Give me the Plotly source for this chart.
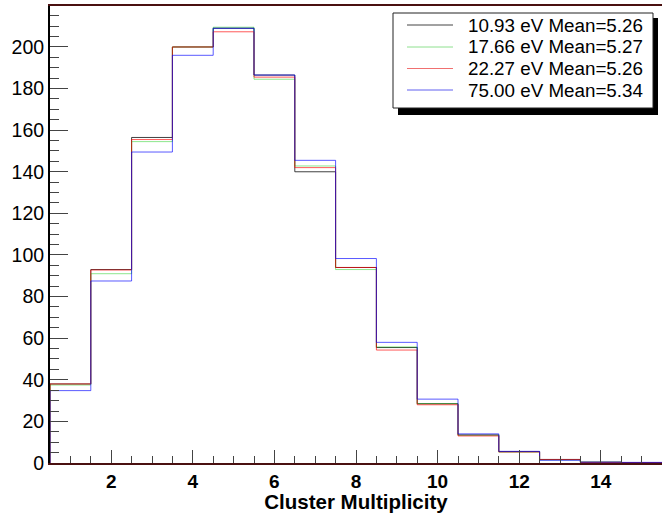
import plotly.graph_objects as go

# ---- data ----
bin_centers = list(range(1, 16))
labels = ["10.93 eV Mean=5.26", "17.66 eV Mean=5.27", "22.27 eV Mean=5.26", "75.00 eV Mean=5.34"]
h_1093 = [38, 93, 156.5, 200, 209, 186.5, 140, 94, 55.5, 28.5, 13.5, 5.5, 1.7, 0.4, 0.2]
h_1766 = [37.5, 91, 154.5, 200, 209.5, 184.5, 142.8, 93, 55.8, 28.5, 13.3, 5.2, 1.5, 0.4, 0.2]
h_2227 = [38, 92.8, 155.5, 200, 207.3, 185.5, 142, 94, 54.3, 28, 13, 5.3, 1.7, 0.3, 0.2]
h_7500 = [34.8, 87.5, 149.5, 196, 209, 186.5, 145.5, 98.3, 58, 30.7, 14, 5.6, 1.3, 0.4, 0.3]
y_ticks = list(range(0, 201, 20))
x_ticks = list(range(2, 15, 2))

series = [h_1093, h_1766, h_2227, h_7500]
colors = ["rgba(0,0,0,0.75)", "rgba(0,200,0,0.45)", "rgba(255,0,0,0.65)", "rgba(0,0,255,0.65)"]

W, H = 662, 513
ML, MR, MT, MB = 50, 0, 6, 50
PW, PH = W - ML - MR, H - MT - MB
FONT = "Liberation Sans"

fig = go.Figure()
for vals, col, lab in zip(series, colors, labels):
    edges = [c - 0.5 for c in bin_centers] + [bin_centers[-1] + 0.5]
    xs = [edges[0]] + edges
    ys = [0] + vals + [vals[-1]]
    fig.add_trace(go.Scatter(x=xs, y=ys, mode="lines", line=dict(color=col, width=1, shape="hv"),
                             name=lab, showlegend=False, hoverinfo="skip"))

def px_x(px):
    return (px - ML) / PW

def px_y(py):
    return (H - MB - py) / PH

shapes = []
# legend shadow and box
shapes.append(dict(type="rect", xref="paper", yref="paper", x0=px_x(398), x1=px_x(658),
                   y0=px_y(115), y1=px_y(18), fillcolor="black", line=dict(width=0), layer="above"))
shapes.append(dict(type="rect", xref="paper", yref="paper", x0=px_x(393), x1=px_x(653),
                   y0=px_y(108), y1=px_y(13), fillcolor="white", line=dict(color="#222", width=1), layer="above"))
annotations = []
row_y = [25, 47, 68.5, 90]
solid = ["#444", "#8ee08e", "#f07070", "#6060f0"]
for ry, col, lab in zip(row_y, solid, labels):
    shapes.append(dict(type="line", xref="paper", yref="paper", x0=px_x(407), x1=px_x(453),
                       y0=px_y(ry), y1=px_y(ry), line=dict(color=col, width=1), layer="above"))
    annotations.append(dict(text=lab, xref="paper", yref="paper", x=px_x(466), y=px_y(ry),
                            xanchor="left", yanchor="middle", showarrow=False,
                            font=dict(family=FONT, size=18.8, color="black")))

fig.update_layout(
    width=W, height=H, margin=dict(l=ML, r=MR, t=MT, b=MB),
    paper_bgcolor="white", plot_bgcolor="white",
    shapes=shapes, annotations=annotations,
    xaxis=dict(range=[0.5, 15.5], tickvals=x_ticks, ticks="inside", ticklen=13, tickwidth=1,
               tickcolor="#444", showline=True, linecolor="#4a1010", linewidth=2, mirror=True,
               showgrid=False, zeroline=False, ticklabelstandoff=0,
               tickfont=dict(family=FONT, size=19, color="black", weight="bold"),
               minor=dict(dtick=0.5, tick0=0.5, ticks="inside", ticklen=7, tickcolor="#444", tickwidth=1, showgrid=False),
               title=dict(text="Cluster Multiplicity", standoff=0,
                          font=dict(family=FONT, size=20.5, color="black", weight="bold"))),
    yaxis=dict(range=[0, 219.7], tickvals=y_ticks, ticks="inside", ticklen=18, tickwidth=1,
               tickcolor="#444", showline=True, linecolor="black", linewidth=2, mirror=False,
               showgrid=False, zeroline=False,
               tickfont=dict(family=FONT, size=19.5, color="black"),
               minor=dict(dtick=5, tick0=0, ticks="inside", ticklen=9, tickcolor="#444", tickwidth=1, showgrid=False)),
)

fig.write_html("out.html")
